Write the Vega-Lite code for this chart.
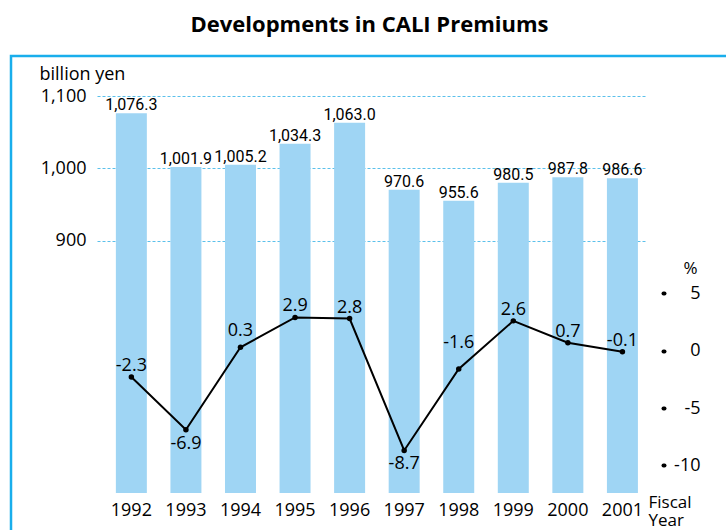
{
  "$schema": "https://vega.github.io/schema/vega-lite/v6.json",
  "width": 549,
  "height": 397,
  "autosize": {"type": "none"},
  "padding": {"left": 97, "top": 96, "right": 80, "bottom": 37},
  "title": {
    "text": "Developments in CALI Premiums",
    "font": "Open Sans",
    "fontSize": 22,
    "fontWeight": "bold",
    "color": "#000000",
    "anchor": "middle",
    "dx": -2,
    "dy": -14
  },
  "data": {
    "values": [
      {"year": "1992", "premium": 1076.3, "growth": -2.3},
      {"year": "1993", "premium": 1001.9, "growth": -6.9},
      {"year": "1994", "premium": 1005.2, "growth": 0.3},
      {"year": "1995", "premium": 1034.3, "growth": 2.9},
      {"year": "1996", "premium": 1063.0, "growth": 2.8},
      {"year": "1997", "premium": 970.6, "growth": -8.7},
      {"year": "1998", "premium": 955.6, "growth": -1.6},
      {"year": "1999", "premium": 980.5, "growth": 2.6},
      {"year": "2000", "premium": 987.8, "growth": 0.7},
      {"year": "2001", "premium": 986.6, "growth": -0.1}
    ]
  },
  "encoding": {
    "x": {
      "field": "year",
      "type": "ordinal",
      "scale": {"paddingInner": 0.432, "paddingOuter": 0.247, "align": 0.7},
      "axis": {
        "title": ["Fiscal", "Year"],
        "labelAngle": 0,
        "ticks": false,
        "domain": false,
        "labelPadding": 17,
        "labelBaseline": "middle",
        "labelFontSize": 18,
        "labelColor": "#000000",
        "titleAlign": "left",
        "titleAnchor": "start",
        "titleX": 551,
        "titleY": 14,
        "titleBaseline": "alphabetic",
        "titleFontSize": 17,
        "titleFontWeight": "normal",
        "titleLineHeight": 18,
        "titleColor": "#000000"
      }
    }
  },
  "layer": [
    {
      "layer": [
        {
          "mark": {"type": "bar"},
          "encoding": {
            "y": {
              "field": "premium",
              "type": "quantitative",
              "scale": {"domain": [552.4, 1100], "nice": false, "zero": false, "clamp": true},
              "axis": {
                "title": "billion yen",
                "values": [900, 1000, 1100],
                "format": ",.0f",
                "grid": true,
                "gridColor": "#5bc0eb",
                "gridDash": [3, 2],
                "gridWidth": 1,
                "domain": false,
                "ticks": false,
                "labelPadding": 11,
                "labelFontSize": 18,
                "labelColor": "#000000",
                "titleAngle": 0,
                "titleAlign": "left",
                "titleX": -58,
                "titleY": -17,
                "titleBaseline": "alphabetic",
                "titleFontSize": 18,
                "titleFontWeight": "normal",
                "titleColor": "#000000"
              }
            },
            "color": {
              "datum": "Premiums",
              "scale": {"range": ["#9fd5f4"]},
              "legend": {
                "orient": "none",
                "legendX": -86,
                "legendY": -40,
                "padding": 400,
                "strokeColor": "#19aeec",
                "title": null,
                "labelExpr": "''",
                "symbolOpacity": 0,
                "symbolSize": 0,
                "encode": {"legend": {"update": {"strokeWidth": {"value": 2.5}}}}
              }
            }
          }
        },
        {
          "mark": {"type": "text", "font": "Roboto", "fontSize": 16, "baseline": "alphabetic", "dy": -3, "color": "#000000"},
          "encoding": {
            "y": {"field": "premium", "type": "quantitative"},
            "text": {"field": "premium", "type": "quantitative", "format": ",.1f"}
          }
        }
      ]
    },
    {
      "layer": [
        {
          "mark": {"type": "line", "color": "#000000", "strokeWidth": 2},
          "encoding": {
            "y": {
              "field": "growth",
              "type": "quantitative",
              "scale": {"domain": [-12.41, 22.21], "nice": false, "zero": false},
              "axis": {
                "orient": "right",
                "title": "%",
                "values": [5, 0, -5, -10],
                "offset": 17,
                "domain": false,
                "grid": false,
                "ticks": true,
                "tickSize": 1,
                "tickWidth": 4,
                "tickCap": "round",
                "tickColor": "#000000",
                "labelAlign": "right",
                "labelPadding": 36,
                "labelBaseline": "middle",
                "labelFontSize": 18,
                "labelColor": "#000000",
                "titleAngle": 0,
                "titleAlign": "center",
                "titleX": 27,
                "titleY": 177,
                "titleBaseline": "alphabetic",
                "titleFontSize": 17,
                "titleFontWeight": "normal",
                "titleColor": "#000000"
              }
            }
          }
        },
        {
          "mark": {"type": "point", "filled": true, "color": "#000000", "size": 30, "opacity": 1},
          "encoding": {"y": {"field": "growth", "type": "quantitative"}}
        },
        {
          "transform": [{"filter": "datum.year != '1993' && datum.year != '1997' && datum.year != '1994' && datum.year != '1998'"}],
          "mark": {"type": "text", "fontSize": 18, "baseline": "alphabetic", "dy": -6, "color": "#000000"},
          "encoding": {
            "y": {"field": "growth", "type": "quantitative"},
            "text": {"field": "growth", "type": "quantitative", "format": ".1f"}
          }
        },
        {
          "transform": [{"filter": "datum.year == '1994'"}],
          "mark": {"type": "text", "fontSize": 18, "baseline": "alphabetic", "dy": -11, "color": "#000000"},
          "encoding": {
            "y": {"field": "growth", "type": "quantitative"},
            "text": {"field": "growth", "type": "quantitative", "format": ".1f"}
          }
        },
        {
          "transform": [{"filter": "datum.year == '1998'"}],
          "mark": {"type": "text", "fontSize": 18, "baseline": "alphabetic", "dy": -21, "color": "#000000"},
          "encoding": {
            "y": {"field": "growth", "type": "quantitative"},
            "text": {"field": "growth", "type": "quantitative", "format": ".1f"}
          }
        },
        {
          "transform": [{"filter": "datum.year == '1993' || datum.year == '1997'"}],
          "mark": {"type": "text", "fontSize": 18, "baseline": "alphabetic", "dy": 19, "color": "#000000"},
          "encoding": {
            "y": {"field": "growth", "type": "quantitative"},
            "text": {"field": "growth", "type": "quantitative", "format": ".1f"}
          }
        }
      ]
    }
  ],
  "resolve": {"scale": {"y": "independent"}},
  "config": {
    "font": "Open Sans",
    "view": {"stroke": null},
    "locale": {
      "number": {"decimal": ".", "thousands": ",", "grouping": [3], "currency": ["$", ""], "minus": "-"}
    }
  }
}
